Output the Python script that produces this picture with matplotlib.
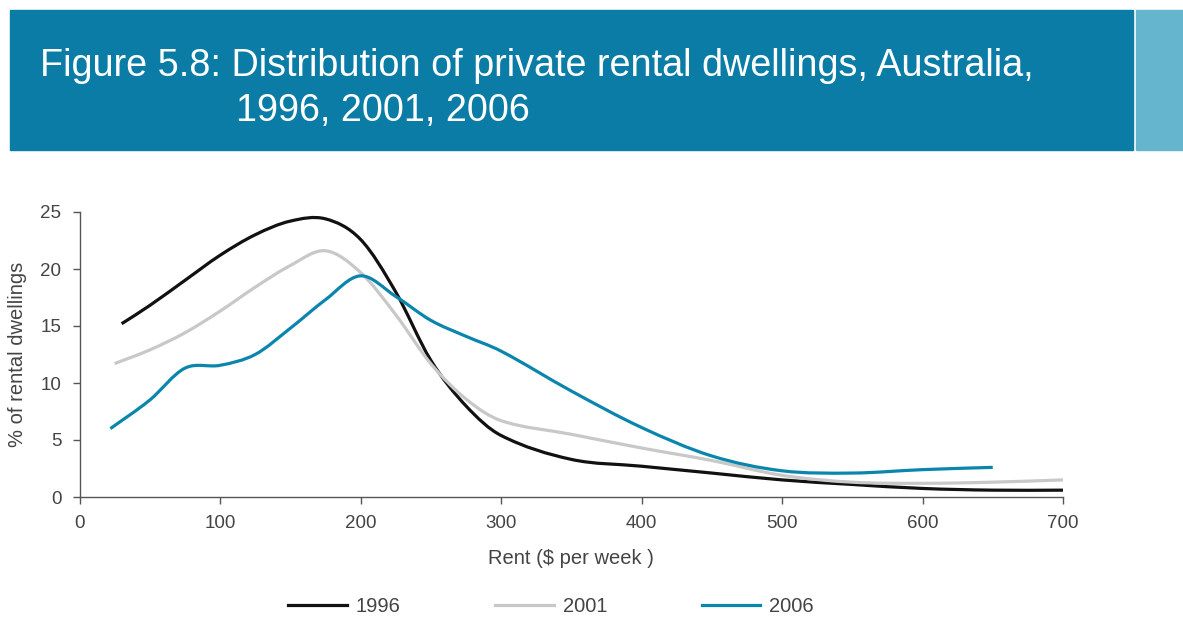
"""
Distribution of private rental dwellings by weekly rent, 1996 / 2001 / 2006.
"""

import matplotlib
matplotlib.use('Agg')
import matplotlib.pyplot as plt
from matplotlib.path import Path
from matplotlib.patches import PathPatch, Rectangle
from matplotlib.lines import Line2D
import numpy as np

plt.rcParams['font.family'] = ['Liberation Sans', 'DejaVu Sans']

# Rent ($ per week) vs % of rental dwellings, per census year
rent_1996 = [30, 50, 75, 100, 125, 150, 175, 200, 225, 250, 275, 300,
             350, 400, 450, 500, 550, 600, 650, 700]
pct_1996 = [15.2, 16.8, 19.0, 21.2, 23.0, 24.2, 24.4, 22.6, 18.0, 12.0, 8.0, 5.4,
            3.3, 2.7, 2.1, 1.5, 1.1, 0.75, 0.6, 0.6]

rent_2001 = [25, 50, 75, 100, 125, 150, 175, 200, 225, 250, 275, 300,
             350, 400, 450, 500, 550, 600, 650, 700]
pct_2001 = [11.7, 12.9, 14.4, 16.3, 18.4, 20.3, 21.6, 19.7, 16.0, 11.7, 8.6, 6.7,
            5.5, 4.3, 3.2, 1.9, 1.3, 1.2, 1.3, 1.5]

rent_2006 = [22, 50, 75, 100, 125, 150, 175, 200, 225, 250, 275, 300,
             350, 400, 450, 500, 550, 600, 650]
pct_2006 = [6.0, 8.5, 11.3, 11.55, 12.5, 14.8, 17.3, 19.4, 17.6, 15.5, 14.1, 12.8,
            9.3, 6.1, 3.6, 2.3, 2.1, 2.4, 2.6]

series = [
    ('1996', rent_1996, pct_1996, '#111111'),
    ('2001', rent_2001, pct_2001, '#c8c8c8'),
    ('2006', rent_2006, pct_2006, '#0a86ad'),
]


def smooth_path(x, y):
    """Cubic Bezier path through the points, slopes from neighbouring points."""
    x = np.asarray(x, float)
    y = np.asarray(y, float)
    n = len(x)
    slope = np.empty(n)
    slope[0] = (y[1] - y[0]) / (x[1] - x[0])
    slope[-1] = (y[-1] - y[-2]) / (x[-1] - x[-2])
    slope[1:-1] = (y[2:] - y[:-2]) / (x[2:] - x[:-2])
    verts = [(x[0], y[0])]
    codes = [Path.MOVETO]
    for i in range(n - 1):
        dx = x[i + 1] - x[i]
        verts += [(x[i] + dx / 3, y[i] + slope[i] * dx / 3),
                  (x[i + 1] - dx / 3, y[i + 1] - slope[i + 1] * dx / 3),
                  (x[i + 1], y[i + 1])]
        codes += [Path.CURVE4] * 3
    return Path(verts, codes)


fig = plt.figure(figsize=(11.83, 6.18), dpi=100)

# Header band
W, H = 1183, 618
fig.patches.append(Rectangle((10 / W, 1 - 150 / H), 1123 / W, 140 / H,
                             transform=fig.transFigure, color='#0a7ca6', zorder=0))
fig.patches.append(Rectangle((1136 / W, 1 - 150 / H), 47 / W, 140 / H,
                             transform=fig.transFigure, color='#66b5cf', zorder=0))
title_kw = dict(color='white', fontsize=27.2, va='baseline', ha='left')
fig.text(40 / W, 1 - 76 / H,
         'Figure 5.8: Distribution of private rental dwellings, Australia,', **title_kw)
fig.text(236 / W, 1 - 121 / H, '1996, 2001, 2006', **title_kw)

ax = fig.add_axes([79.5 / W, 1 - 497 / H, 983.5 / W, 285 / H])

for label, x, y, color in series:
    ax.add_patch(PathPatch(smooth_path(x, y), fill=False, edgecolor=color,
                           linewidth=2.3, capstyle='butt', joinstyle='round'))

ax.set_xlim(0, 700)
ax.set_ylim(0, 25)
ax.set_xticks(range(0, 701, 100))
ax.set_yticks(range(0, 26, 5))

for side in ('top', 'right'):
    ax.spines[side].set_visible(False)
for side in ('left', 'bottom'):
    ax.spines[side].set_color('#555555')
    ax.spines[side].set_linewidth(1.0)
ax.tick_params(direction='out', length=5, width=1, color='#555555',
               labelsize=13.5, labelcolor='#444444', pad=8)

ax.set_xlabel('Rent ($ per week )', fontsize=14.5, color='#444444', labelpad=12)
ax.set_ylabel('% of rental dwellings', fontsize=14.5, color='#444444', labelpad=10)

handles = [Line2D([], [], color=c, linewidth=2.3) for _, _, _, c in series]
fig.legend(handles, [s[0] for s in series], loc='center', ncol=3,
           bbox_to_anchor=(551 / W, 1 - 607 / H), frameon=False,
           fontsize=14.5, labelcolor='#444444', handlelength=2.9,
           handletextpad=0.45, columnspacing=4.7)

fig.savefig('out.png', dpi=100, facecolor='white')
